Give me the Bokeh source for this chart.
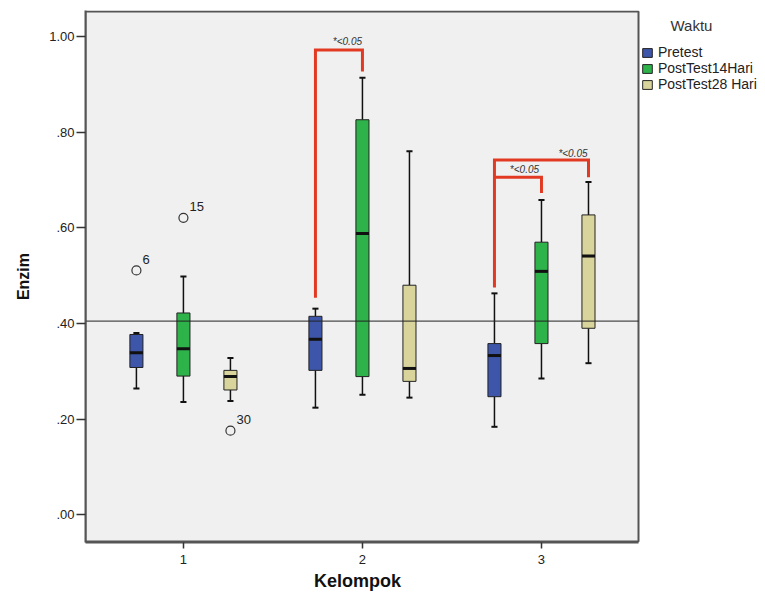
from bokeh.plotting import figure
from bokeh.models import ColumnDataSource, Legend, LegendItem, Label, FixedTicker, BoxAnnotation, Title
from bokeh.core.properties import value
from bokeh.embed import file_html
from bokeh.resources import INLINE

# ---------------- data ----------------
groups = [1, 2, 3]
x_tick_labels = ["1", "2", "3"]
series = ["Pretest", "PostTest14Hari", "PostTest28 Hari"]
colors = ["#3d56a9", "#2eb34b", "#d9d49b"]
offsets = [-0.2626, 0.0, 0.2626]

# per series -> values for groups 1, 2, 3
low_whisker = [[0.264, 0.224, 0.184], [0.236, 0.251, 0.285], [0.238, 0.245, 0.317]]
q1 = [[0.308, 0.302, 0.247], [0.290, 0.289, 0.358], [0.261, 0.279, 0.390]]
median = [[0.339, 0.367, 0.333], [0.347, 0.588, 0.509], [0.289, 0.306, 0.541]]
q3 = [[0.377, 0.415, 0.358], [0.422, 0.826, 0.570], [0.302, 0.480, 0.627]]
high_whisker = [[0.380, 0.431, 0.463], [0.498, 0.914, 0.658], [0.328, 0.760, 0.696]]

outlier_group = [1, 1, 1]
outlier_series = [0, 1, 2]
outlier_value = [0.511, 0.621, 0.176]
outlier_label = ["6", "15", "30"]

ref_line = 0.405

y_ticks = [0.0, 0.2, 0.4, 0.6, 0.8, 1.0]
y_tick_labels = [".00", ".20", ".40", ".60", ".80", "1.00"]

bracket_group = [2, 3, 3]
bracket_from = [0, 0, 0]
bracket_to = [1, 2, 1]
bracket_start = [0.454, 0.475, 0.706]
bracket_top = [0.972, 0.742, 0.706]
bracket_end = [0.927, 0.706, 0.673]

sig_text = ["*<0.05", "*<0.05", "*<0.05"]
sig_x = [1.916, 3.176, 2.905]
sig_y = [0.990, 0.756, 0.723]

legend_title = "Waktu"
x_label = "Kelompok"
y_label = "Enzim"

# ---------------- layout ----------------
FONT = "Liberation Sans"
BOX_HALF = 0.0365
CAP_HALF = 0.017

W, H = 760, 594
MB_L, MB_R, MB_T, MB_B = 85, 0, 10, 52
X_LO, X_HI_BOX = 0.453, 3.542          # plot box (x)
Y_LO_BOX, Y_HI_BOX = -0.0558, 1.0523   # plot box (y)
BOX_W_PX, BOX_H_PX = 553, 530
x_px = BOX_W_PX / (X_HI_BOX - X_LO)
y_px = BOX_H_PX / (Y_HI_BOX - Y_LO_BOX)
x_hi = X_LO + (W - MB_L - MB_R) / x_px
y_lo = Y_LO_BOX - 1.0 / y_px
y_hi = Y_HI_BOX + 1.0 / y_px

p = figure(width=W, height=H, output_backend="svg", toolbar_location=None,
           x_range=(X_LO, x_hi), y_range=(y_lo, y_hi),
           min_border_left=MB_L, min_border_right=MB_R, min_border_top=MB_T, min_border_bottom=MB_B)
p.background_fill_color = "white"
p.border_fill_color = "white"
p.outline_line_color = None
p.grid.visible = False

p.add_layout(BoxAnnotation(left=X_LO, right=X_HI_BOX, bottom=Y_LO_BOX, top=Y_HI_BOX,
                           fill_color="#f0f0f0", fill_alpha=1.0, line_color="#555555",
                           line_alpha=1.0, line_width=2, level="underlay"))

renderers = []
for si, name in enumerate(series):
    xs = [g + offsets[si] for g in groups]
    src = ColumnDataSource(dict(
        x=xs,
        left=[x - BOX_HALF for x in xs], right=[x + BOX_HALF for x in xs],
        cl=[x - CAP_HALF for x in xs], cr=[x + CAP_HALF for x in xs],
        lw=low_whisker[si], q1=q1[si], med=median[si], q3=q3[si], hw=high_whisker[si],
    ))
    p.segment(x0="x", y0="q3", x1="x", y1="hw", source=src, line_color="#111111", line_width=1.5)
    p.segment(x0="x", y0="q1", x1="x", y1="lw", source=src, line_color="#111111", line_width=1.5)
    p.segment(x0="cl", y0="hw", x1="cr", y1="hw", source=src, line_color="#111111", line_width=2)
    p.segment(x0="cl", y0="lw", x1="cr", y1="lw", source=src, line_color="#111111", line_width=2)
    r = p.quad(left="left", right="right", bottom="q1", top="q3", source=src,
               fill_color=colors[si], line_color="#222222", line_width=1)
    p.segment(x0="left", y0="med", x1="right", y1="med", source=src, line_color="#111111", line_width=3)
    renderers.append(r)

# outliers
ox = [g + offsets[s] for g, s in zip(outlier_group, outlier_series)]
osrc = ColumnDataSource(dict(x=ox, y=outlier_value, t=outlier_label))
p.scatter(x="x", y="y", source=osrc, marker="circle", size=9, fill_color=None,
          line_color="#333333", line_width=1.2)
p.text(x="x", y="y", text="t", source=osrc, x_offset=6, y_offset=-11,
       text_font=value(FONT), text_font_size="13px", text_color="#222222",
       text_baseline="middle", text_align="left")

# reference line (within the plot box)
p.segment(x0=[X_LO], y0=[ref_line], x1=[X_HI_BOX], y1=[ref_line], line_color="#222222", line_width=1)

# significance brackets
bxs, bys = [], []
for g, f, t, s, top, e in zip(bracket_group, bracket_from, bracket_to, bracket_start, bracket_top, bracket_end):
    x0 = g + offsets[f]
    x1 = g + offsets[t]
    bxs.append([x0, x0, x1, x1])
    bys.append([s, top, top, e])
p.multi_line(xs=bxs, ys=bys, line_color="#e23a22", line_width=3, line_join="miter")
ssrc = ColumnDataSource(dict(x=sig_x, y=sig_y, t=sig_text))
p.text(x="x", y="y", text="t", source=ssrc, text_font=value(FONT), text_font_size="10px",
       text_font_style="italic", text_color="#333333", text_align="center", text_baseline="middle")

# axes
p.xaxis.ticker = FixedTicker(ticks=groups)
p.xaxis.major_label_overrides = {g: l for g, l in zip(groups, x_tick_labels)}
p.xaxis.bounds = (X_LO, X_HI_BOX)
p.yaxis.ticker = FixedTicker(ticks=y_ticks)
p.yaxis.major_label_overrides = {t: l for t, l in zip(y_ticks, y_tick_labels)}
for ax in (p.xaxis, p.yaxis):
    ax.minor_tick_in = 0
    ax.minor_tick_out = 0
    ax.major_tick_in = 0
    ax.axis_line_color = "#555555"
    ax.axis_line_width = 2
    ax.major_tick_line_color = "#333333"
    ax.major_tick_line_width = 1.5
    ax.major_label_text_font = FONT
    ax.major_label_text_font_size = "13px"
    ax.major_label_text_color = "#222222"
    ax.axis_label_text_font = FONT
    ax.axis_label_text_font_style = "bold"
    ax.axis_label_text_color = "#111111"
p.yaxis.major_tick_out = 9
p.yaxis.major_label_standoff = 2
p.yaxis.axis_label = y_label
p.yaxis.axis_label_text_font_size = "16px"
p.yaxis.axis_label_standoff = 14
p.xaxis.major_tick_out = 6
p.xaxis.major_label_standoff = 6

# x axis title, centred under the plot box (not under the wider frame)
p.add_layout(Title(text=x_label, align="left", offset=BOX_W_PX / 2 - 48, standoff=4,
                   text_font=FONT, text_font_size="18px", text_font_style="bold",
                   text_color="#111111"), "below")

# legend (placed to the right of the plot box)
legend = Legend(items=[LegendItem(label=s, renderers=[r]) for s, r in zip(series, renderers)],
                location=(556, 450), padding=0, margin=0, spacing=0,
                glyph_width=12, glyph_height=11, label_height=11, label_standoff=5,
                label_text_font=FONT, label_text_font_size="14px", label_text_color="#222222",
                background_fill_alpha=0, border_line_color=None)
p.add_layout(legend)
p.add_layout(Label(x=3.838, y=1.023, text=legend_title, text_font=FONT, text_font_size="15px",
                   text_color="#333333", text_align="center", text_baseline="middle"))

open("out.html", "w").write(file_html(p, INLINE))
